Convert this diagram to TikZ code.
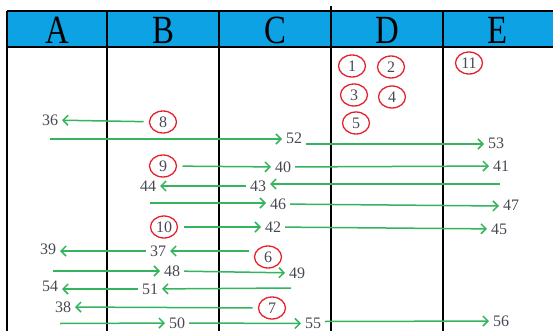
\documentclass[tikz,border=0pt]{standalone}
\usepackage{fontspec}
\setmainfont{Liberation Serif}
\usetikzlibrary{arrows.meta,shapes.geometric}
\definecolor{headblue}{RGB}{12,162,228}
\definecolor{arrgreen}{RGB}{52,180,92}
\definecolor{ringred}{RGB}{228,32,40}
\definecolor{numgray}{RGB}{72,72,82}
\tikzset{
  lbl/.style={text=numgray, font=\fontsize{16}{16}\selectfont, inner sep=1.5pt, outer sep=2.5pt},
  circnum/.style={lbl, draw=ringred, line width=1.3pt, ellipse, minimum width=27pt, minimum height=22pt, inner sep=0pt, outer sep=6pt},
  arr/.style={draw=arrgreen, line width=1.5pt, -{Straight Barb[length=5pt,width=10pt]}},
  colhead/.style={font=\fontsize{40}{40}\selectfont, xscale=0.82, text=black}
}

\begin{document}
\begin{tikzpicture}[x=1pt, y=-1pt]
\useasboundingbox (0,0) rectangle (553,331);

%%%%%%%%%%
% Table (background)
%%%%%%%%%%
\begin{scope}
\fill[headblue] (7,11) rectangle (553,47);
\draw[line width=1.6pt] (7,11) -- (553,11);
\draw[line width=1.4pt] (7,47) -- (553,47);
\foreach \x in {7,107,219,443} {
\draw[line width=1.6pt] (\x,11) -- (\x,331);
}
\draw[line width=1.6pt] (331,6) -- (331,331);
\end{scope}

% column heads
\foreach \x/\lab in {
57/A,
163/B,
275/C,
387/D,
498/E
} {
\node[colhead] (h\lab) at (\x,30.5) {\lab};
}

%%%%%%%%%%
% Circled numbers
%%%%%%%%%%
\foreach \n/\x/\y in {
1/352/66,
2/391/67,
3/354/95,
4/392/97,
5/356/123,
11/469/63,
8/163/122,
9/163/166,
10/164/227,
6/268/257,
7/272/308
} {
\node[circnum] (c\n) at (\x,\y) {\n};
}

%%%%%%%%%%
% Plain numbers
%%%%%%%%%%
\foreach \n/\x/\y in {
36/50/120,
52/294/138,
53/496/143,
40/283/167,
41/501/166,
44/148/186,
43/258/186,
46/278/204,
47/511/205,
42/273/227,
45/499/229,
39/48/249,
37/158/251,
48/172/271,
49/297/273,
54/50/286,
51/150/289,
38/63/307,
50/177/323,
55/313/323.5,
56/501/321
} {
\node[lbl] (n\n) at (\x,\y) {\n};
}

% free ends of the long arrows
\coordinate (s52) at (50,139);
\coordinate (s43) at (500,184);
\coordinate (s46) at (150,203);
\coordinate (s48) at (53,271);
\coordinate (s51) at (291,288);
\coordinate (s50) at (60,323.5);

%%%%%%%%%%
% Arrows (foreground)
%%%%%%%%%%
\draw[arr] (c8) -- (n36);
\draw[arr] (s52) -- ([yshift=-1pt]n52.west);
\draw[arr] ([yshift=-6pt]n52.east) -- ([yshift=-1pt]n53.west);
\draw[arr] (c9) -- (n40);
\draw[arr] (n40) -- (n41);
\draw[arr] (s43) -- ([yshift=2pt]n43.east);
\draw[arr] (n43) -- (n44);
\draw[arr] (s46) -- ([yshift=1pt]n46.west);
\draw[arr] (n46) -- ([yshift=-1pt]n47.west);
\draw[arr] (c10) -- (n42);
\draw[arr] (n42) -- (n45);
\draw[arr] (c6.west |- n37) -- (n37);
\draw[arr] (n37) -- (n39.east |- n37);
\draw[arr] (s48) -- (n48);
\draw[arr] (n48) -- (n49);
\draw[arr] (s51) -- (n51);
\draw[arr] (n51) -- (n54.east |- n51);
\draw[arr] (c7) -- (n38);
\draw[arr] (s50) -- (n50);
\draw[arr] (n50) -- (n55);
\draw[arr] ([yshift=2pt]n55.east) -- (n56);

\end{tikzpicture}
\end{document}
